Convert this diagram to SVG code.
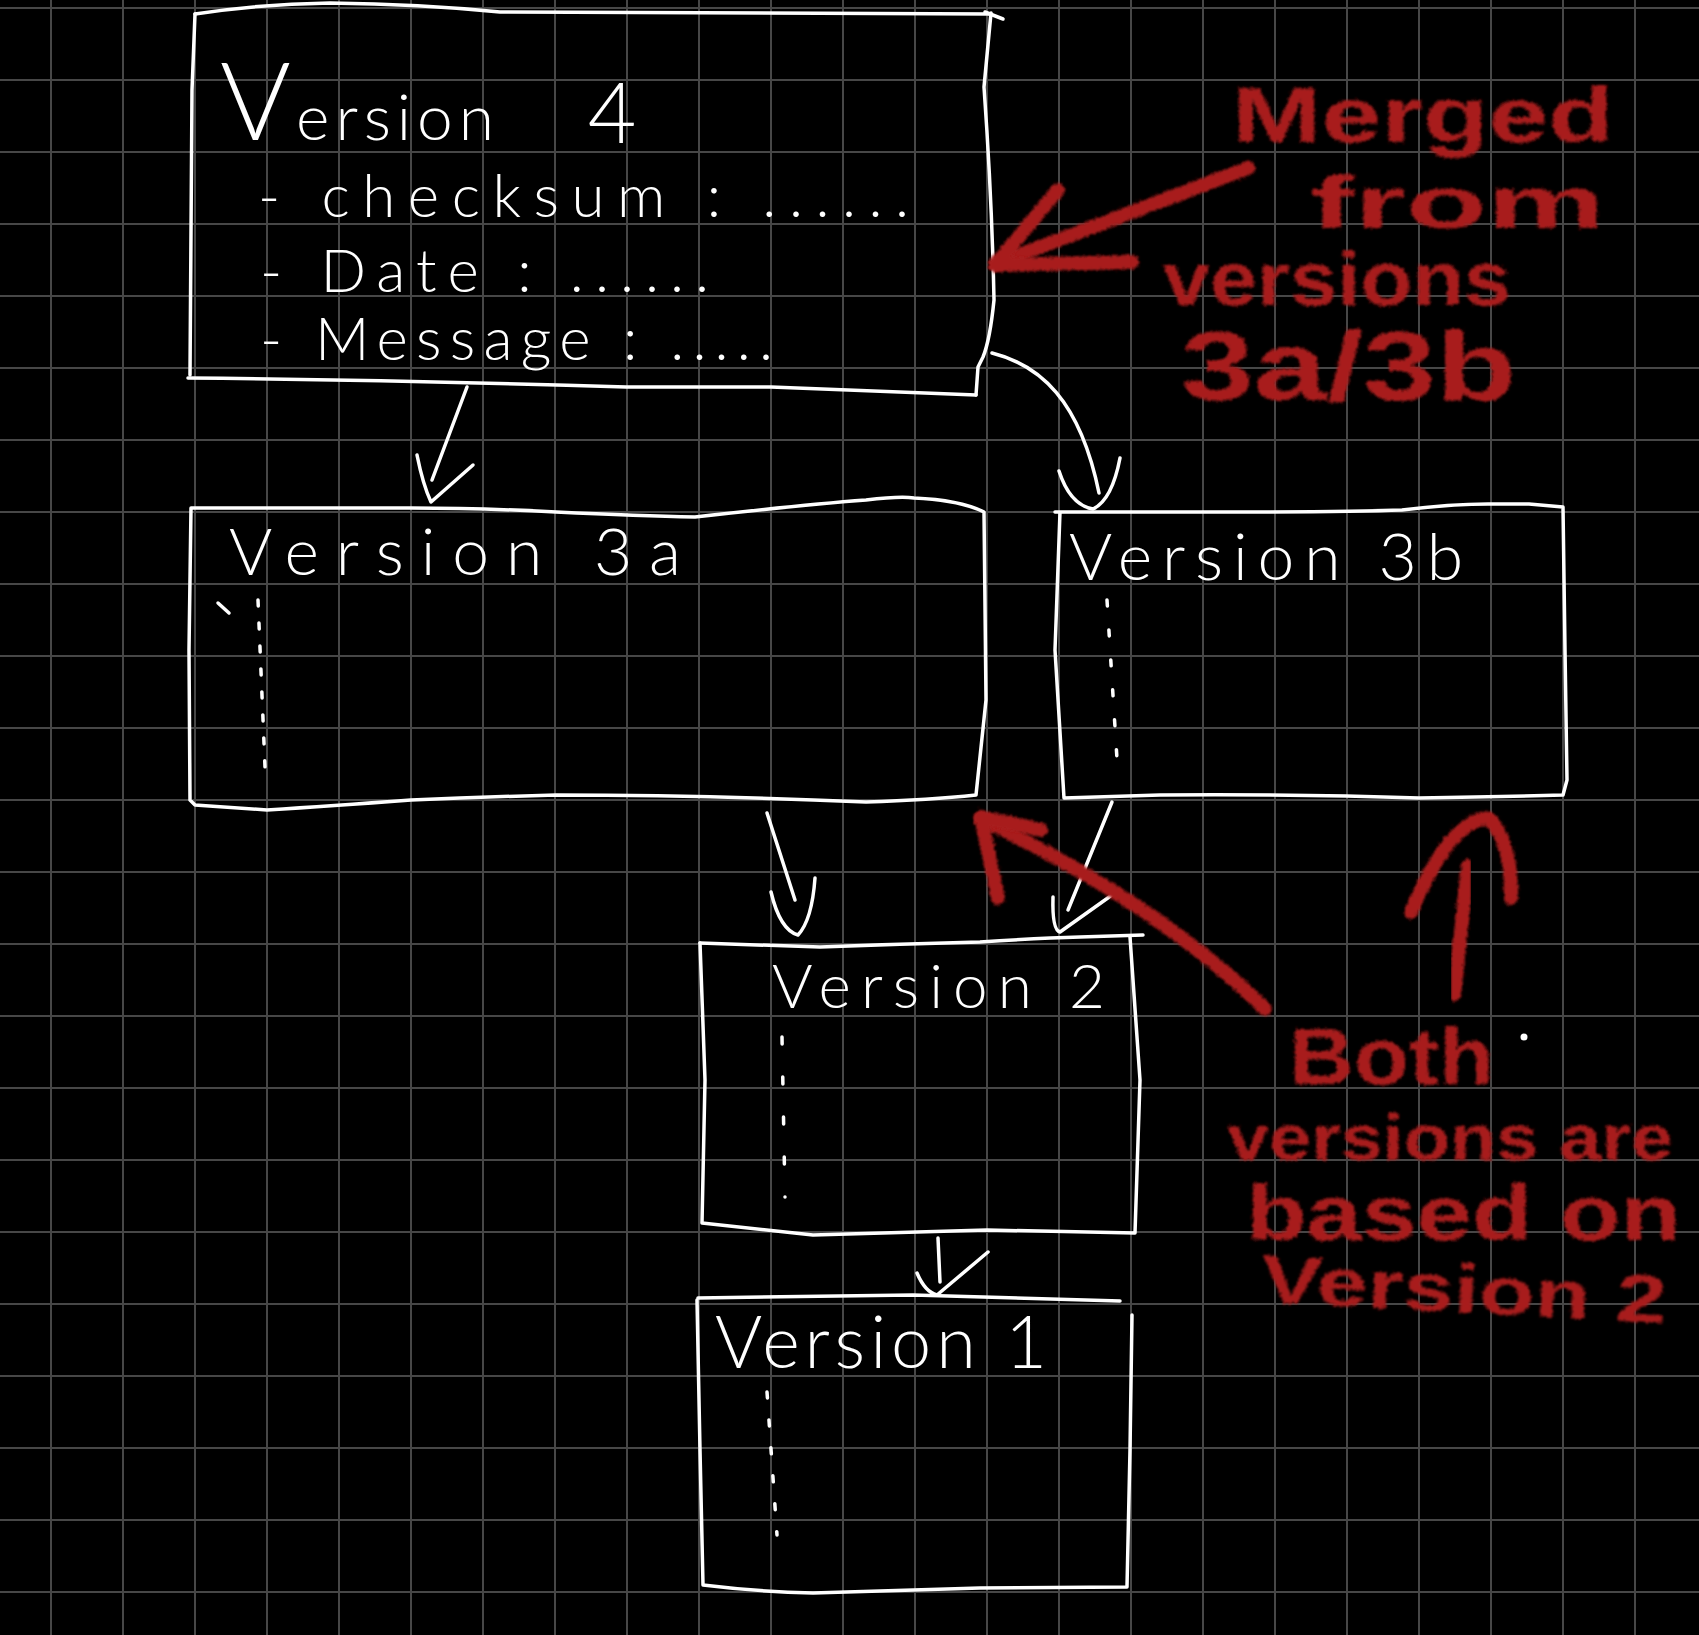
<svg xmlns="http://www.w3.org/2000/svg" width="1699" height="1635" viewBox="0 0 1699 1635">
<defs>
<pattern id="grid" patternUnits="userSpaceOnUse" x="50" y="7" width="72" height="72">
<rect x="0" y="0" width="72" height="2" fill="#474747"/>
<rect x="0" y="0" width="2" height="72" fill="#474747"/>
</pattern>
<filter id="brush" x="-20%" y="-20%" width="140%" height="140%">
<feTurbulence type="fractalNoise" baseFrequency="0.55" numOctaves="2" seed="3" result="n"/>
<feDisplacementMap in="SourceGraphic" in2="n" scale="7" xChannelSelector="R" yChannelSelector="G" result="d"/>
<feGaussianBlur in="d" stdDeviation="1"/>
</filter>
</defs>
<style>
.w{fill:none;stroke:#fff;stroke-width:3.5;stroke-linecap:round;stroke-linejoin:round}
.dots{fill:none;stroke:#fff;stroke-width:3.5;stroke-linecap:round}
.t{fill:#fff;font-family:Lato,"Open Sans","Noto Sans",sans-serif;font-weight:300}
.r{fill:none;stroke:#a81e1e;stroke-width:14;stroke-linecap:round;stroke-linejoin:round;filter:url(#brush)}
.rt{fill:#a81e1e;font-family:"Liberation Sans",Arial,sans-serif;font-weight:bold;filter:url(#brush)}
</style>
<rect width="1699" height="1635" fill="#000"/>
<rect width="1699" height="1635" fill="url(#grid)"/>

<g id="node-v4">
<path class="w" d="M195 14 Q260 4 330 3 Q420 4 500 12 L991 14"/>
<path class="w" d="M985 12 L1003 19"/>
<path class="w" d="M991 13 L984 87 Q992 200 994 300 Q990 340 983 357 L978 367 L976 395"/>
<path class="w" d="M976 395 L771 387 L626 387 Q400 380 188 378"/>
<path class="w" d="M195 14 L192 90 L190 375"/>
<text class="t" y="140"><tspan x="220" font-size="108">V</tspan><tspan x="296" font-size="64" textLength="198" lengthAdjust="spacing">ersion</tspan><tspan x="565" y="143" font-size="84"> 4</tspan></text>
<text class="t" x="258" y="217" font-size="60" textLength="651" lengthAdjust="spacing">- checksum : ......</text>
<text class="t" x="260" y="292" font-size="60" textLength="449" lengthAdjust="spacing">- Date : ......</text>
<text class="t" x="260" y="360" font-size="60" textLength="513" lengthAdjust="spacing">- Message : .....</text>
</g>

<g id="node-v3a">
<path class="w" d="M191 508 L411 508 Q480 508 556 512 Q640 516 695 517 Q800 505 866 500 Q900 496 914 498 Q960 500 984 512 L986 700 L976 795 Q930 800 866 802 Q700 795 556 795 Q480 797 411 800 Q330 806 267 810 L195 805 L190 800 L189 650 Z"/>
<text class="t" x="229" y="575" font-size="66" textLength="452" lengthAdjust="spacing">Version 3a</text>
<path class="dots" d="M258 600 L265 767" stroke-dasharray="6 17"/>
<path class="w" d="M218 603 L229 613"/>
</g>

<g id="node-v3b">
<path class="w" d="M1055 512 L1212 512 Q1350 512 1402 510 Q1450 504 1488 504 L1529 504 L1563 507 L1565 650 L1567 780 L1563 795 Q1500 797 1419 798 Q1300 794 1160 795 L1064 798 L1055 650 L1060 512"/>
<text class="t" x="1069" y="580" font-size="66" textLength="394" lengthAdjust="spacing">Version 3b</text>
<path class="dots" d="M1107 600 L1118 775" stroke-dasharray="6 24"/>
</g>

<g id="node-v2">
<path class="w" d="M700 943 Q760 945 820 947 Q900 944 980 942 Q1040 938 1080 937 L1143 935"/>
<path class="w" d="M1130 937 L1140 1080 L1135 1233 L987 1230 L813 1235 L702 1223 L705 1080 L700 943"/>
<text class="t" x="772" y="1008" font-size="62" textLength="333" lengthAdjust="spacing">Version 2</text>
<path class="dots" d="M782 1037 L785 1197" stroke-dasharray="7 33"/>
</g>

<g id="node-v1">
<path class="w" d="M698 1298 L913 1295 L1120 1301"/>
<path class="w" d="M697 1300 L700 1450 L703 1585 Q760 1592 813 1593 L980 1588 L1127 1587 L1130 1450 L1132 1315"/>
<text class="t" x="715" y="1368" font-size="72" textLength="332" lengthAdjust="spacing">Version 1</text>
<path class="dots" d="M767 1392 L777 1535" stroke-dasharray="6 22"/>
</g>

<g id="connectors">
<path class="w" d="M467 387 L432 480"/>
<path class="w" d="M417 455 Q423 485 431 502 L473 465"/>
<path class="w" d="M992 353 C1040 365 1080 400 1099 493"/>
<path class="w" d="M1059 471 Q1070 505 1093 509 Q1112 500 1120 458"/>
<path class="w" d="M767 813 L795 900"/>
<path class="w" d="M771 892 Q780 930 798 935 Q812 920 815 878"/>
<path class="w" d="M1112 802 L1068 910"/>
<path class="w" d="M1053 897 Q1052 930 1060 932 L1112 895"/>
<path class="w" d="M938 1238 L940 1282"/>
<path class="w" d="M917 1273 Q925 1292 937 1295 L988 1252"/>
</g>

<g id="annotations">
<path class="r" d="M995 264 L1248 168"/>
<path class="r" d="M1058 190 L995 265 L1132 262"/>
<text class="rt" x="1232" y="142" font-size="78" textLength="382" lengthAdjust="spacingAndGlyphs">Merged</text>
<text class="rt" x="1310" y="228" font-size="74" textLength="295" lengthAdjust="spacingAndGlyphs">from</text>
<text class="rt" x="1163" y="305" font-size="76" textLength="348" lengthAdjust="spacingAndGlyphs">versions</text>
<text class="rt" x="1181" y="400" font-size="98" textLength="335" lengthAdjust="spacingAndGlyphs">3a/3b</text>

<path class="r" d="M1265 1009 Q1160 905 981 819"/>
<path class="r" d="M998 898 L981 817 L1041 830"/>
<path class="r" d="M1454 994 L1468 866"/>
<path class="r" d="M1411 912 Q1450 820 1488 818 Q1512 840 1511 898"/>
<text class="rt" x="1289" y="1084" font-size="80" textLength="205" lengthAdjust="spacingAndGlyphs">Both</text>
<text class="rt" x="1227" y="1160" font-size="64" textLength="446" lengthAdjust="spacingAndGlyphs">versions are</text>
<text class="rt" x="1246" y="1240" font-size="78" textLength="435" lengthAdjust="spacingAndGlyphs">based on</text>
<text class="rt" x="1260" y="1302" font-size="68" textLength="406" lengthAdjust="spacingAndGlyphs" transform="rotate(3 1260 1302)">Version 2</text>
<circle cx="1524" cy="1037" r="3.5" fill="#fff"/>
</g>
</svg>
